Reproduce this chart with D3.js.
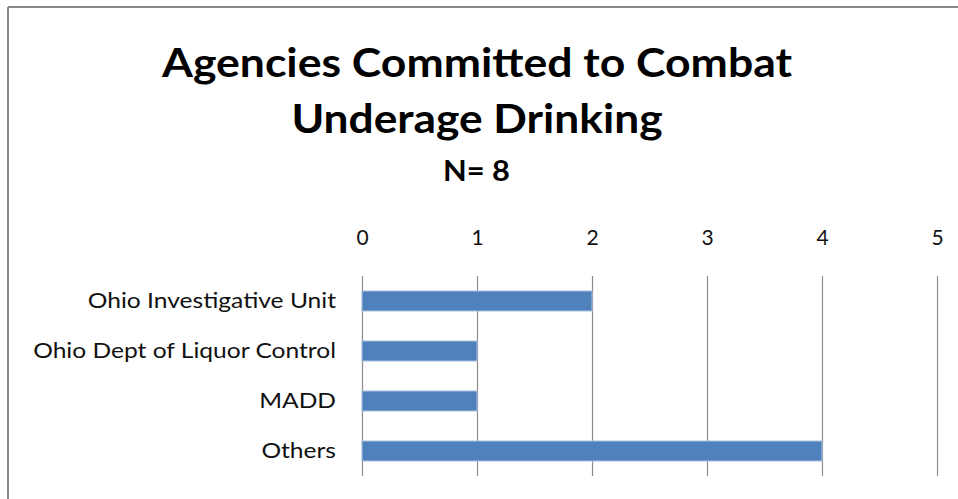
<!DOCTYPE html>
<html><head><meta charset="utf-8">
<script src="https://cdn.jsdelivr.net/npm/d3@7"></script>
<style>html,body{margin:0;padding:0;background:#fff;}svg{display:block;}</style>
</head><body>
<script>
const categories = ["Ohio Investigative Unit","Ohio Dept of Liquor Control","MADD","Others"];
const values = [2,1,1,4];
const tickValues = [0,1,2,3,4,5];
const titleLines = ["Agencies Committed to Combat","Underage Drinking"];
const subtitle = "N= 8";

(function(){
const W=958,H=499;
const svg=d3.select("body").append("svg").attr("width",W).attr("height",H);
svg.append("rect").attr("width",W).attr("height",H).attr("fill","#fff");
// border (top & left visible)
svg.append("line").attr("x1",8).attr("x2",W).attr("y1",7).attr("y2",7).attr("stroke","#888").attr("stroke-width",2);
svg.append("line").attr("x1",8).attr("x2",8).attr("y1",7).attr("y2",H).attr("stroke","#888").attr("stroke-width",2);

const font="Lato, 'Open Sans', sans-serif";
const pl=362,pr=937,pt=276,pb=476;
const x=d3.scaleLinear().domain([0,5]).range([pl,pr]);
const y=d3.scaleBand().domain(categories).range([pt,pb]).paddingInner(0.6).paddingOuter(0.3);

// gridlines
svg.append("g").selectAll("line").data(tickValues).join("line")
  .attr("x1",d=>x(d)+0.5).attr("x2",d=>x(d)+0.5).attr("y1",pt).attr("y2",pb)
  .attr("stroke","#8c8c8c").attr("stroke-width",1.2);

// top axis labels
const ax=d3.axisTop(x).tickValues(tickValues).tickSize(0).tickPadding(0).tickFormat(d3.format("d"));
const axg=svg.append("g").attr("transform","translate(0,245)").call(ax);
axg.select(".domain").remove();
axg.selectAll("text").attr("font-family",font).attr("font-size",21).attr("fill","#111").attr("dy",0);

// bars
svg.append("g").selectAll("rect").data(values).join("rect")
  .attr("x",x(0)).attr("y",(d,i)=>y(categories[i]))
  .attr("width",d=>x(d)-x(0)).attr("height",y.bandwidth())
  .attr("fill","#4F81BD").attr("stroke","#a9c1e0").attr("stroke-width",1);

// category labels
const ay=d3.axisLeft(y).tickSize(0).tickPadding(0);
const ayg=svg.append("g").attr("transform","translate(336,0)").call(ay);
ayg.select(".domain").remove();
ayg.selectAll("text").attr("font-family",font).attr("font-size",21).attr("fill","#111")
  .each(function(){const w=this.getComputedTextLength();
    d3.select(this).attr("textLength",w*1.17).attr("lengthAdjust","spacingAndGlyphs");});

// titles
const tw=[630,371];
const tb=[77,133];
titleLines.forEach((t,i)=>{
  svg.append("text").attr("x",477).attr("y",tb[i]).attr("text-anchor","middle")
   .attr("font-family",font).attr("font-weight","bold").attr("font-size",41)
   .attr("textLength",tw[i]).attr("lengthAdjust","spacingAndGlyphs").text(t);
});
svg.append("text").attr("x",476.5).attr("y",181).attr("text-anchor","middle")
  .attr("font-family",font).attr("font-weight","bold").attr("font-size",28)
  .attr("textLength",67).attr("lengthAdjust","spacingAndGlyphs")
  .text(subtitle);
})();
</script>
</body></html>
